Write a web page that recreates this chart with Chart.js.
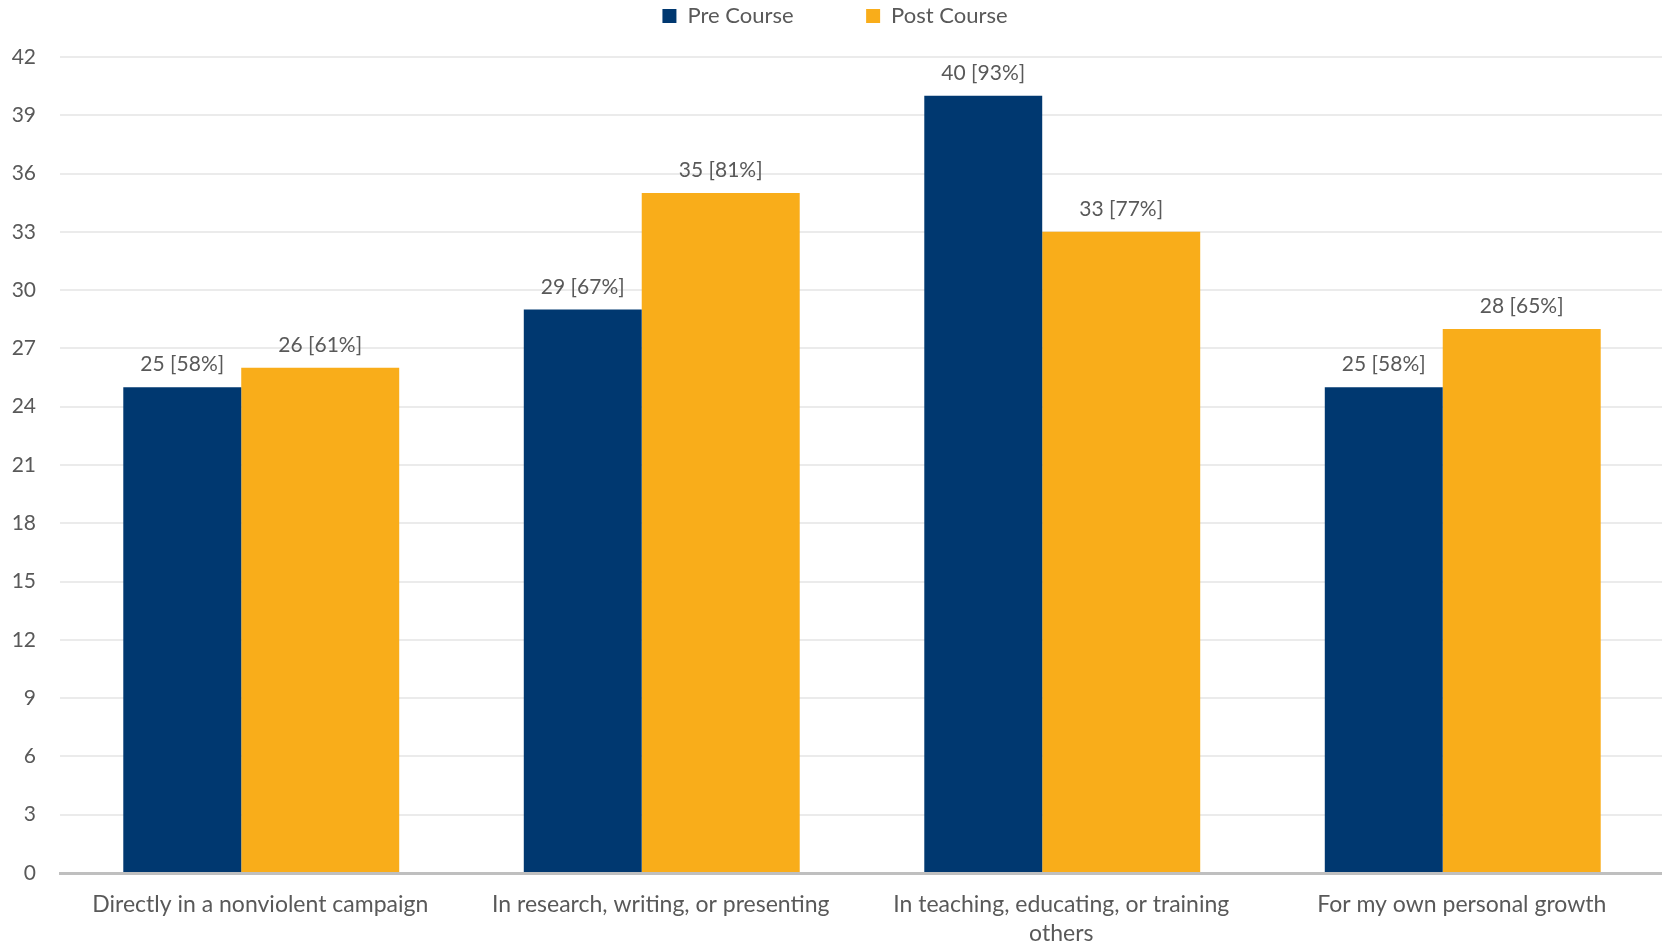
<!DOCTYPE html>
<html>
<head>
<meta charset="utf-8">
<script src="https://cdn.jsdelivr.net/npm/chart.js@4/dist/chart.umd.min.js"></script>
<style>
  html, body { margin: 0; padding: 0; background: #fff; }
  #wrap { width: 1662px; height: 946px; }
</style>
</head>
<body>
<div id="wrap"><canvas id="chart" width="1662" height="946"></canvas></div>
<script>
const categories = [
    'Directly in a nonviolent campaign',
    'In research, writing, or presenting',
    ['In teaching, educating, or training', 'others'],
    'For my own personal growth'
];
const preCourse = [25, 29, 40, 25];
const postCourse = [26, 35, 33, 28];
// percentages printed next to counts
const prePercent = [58, 67, 93, 58];
const postPercent = [61, 81, 77, 65];
const yTicks = { min: 0, max: 42, step: 3 };

const textColor = '#595959';
const fontFamily = 'Lato, "Open Sans", sans-serif';

// draws "25 [58%]" above each bar
const barLabels = {
    id: 'barLabels',
    afterDatasetsDraw(chart) {
        const ctx = chart.ctx;
        ctx.save();
        ctx.font = '21px ' + fontFamily;
        ctx.fillStyle = textColor;
        ctx.textAlign = 'center';
        ctx.textBaseline = 'alphabetic';
        chart.data.datasets.forEach((ds, i) => {
            const meta = chart.getDatasetMeta(i);
            meta.data.forEach((bar, j) => {
                const txt = ds.data[j] + ' [' + ds.percents[j] + '%]';
                ctx.fillText(txt, bar.x, bar.y - 16);
            });
        });
        ctx.restore();
    }
};

// leave room under the legend without pushing it down
const legendGap = {
    id: 'legendGap',
    beforeLayout(chart) {
        const lg = chart.legend;
        if (lg && !lg._gapPatched) {
            const origFit = lg.fit;
            lg.fit = function () {
                origFit.call(this);
                this.height += 20;
            };
            lg._gapPatched = true;
        }
    }
};

new Chart(document.getElementById('chart'), {
    type: 'bar',
    data: {
        labels: categories,
        datasets: [{
            label: 'Pre Course',
            data: preCourse,
            percents: prePercent,
            backgroundColor: '#003870',
            borderWidth: 0,
            categoryPercentage: 0.779,
            barPercentage: 0.756
        }, {
            label: 'Post Course',
            data: postCourse,
            percents: postPercent,
            backgroundColor: '#F9AD1A',
            borderWidth: 0,
            categoryPercentage: 0.599,
            barPercentage: 1.317
        }]
    },
    options: {
        responsive: false,
        animation: false,
        layout: { padding: { left: 8 } },
        plugins: {
            tooltip: { enabled: false },
            legend: {
                position: 'top',
                labels: {
                    boxWidth: 14,
                    boxHeight: 14,
                    padding: 5,
                    color: textColor,
                    font: { size: 22, family: fontFamily },
                    generateLabels(chart) {
                        const items = Chart.defaults.plugins.legend.labels.generateLabels(chart);
                        // widen the gap between the two entries
                        items[0].text = items[0].text + '\u00a0'.repeat(12);
                        return items;
                    }
                }
            }
        },
        scales: {
            x: {
                grid: { display: false, drawTicks: false },
                border: { display: true, color: '#BFBFBF', width: 3 },
                ticks: {
                    color: textColor,
                    font: { size: 23, family: fontFamily, lineHeight: 1.22 },
                    padding: 18,
                    maxRotation: 0,
                    autoSkip: false
                },
                afterFit(s) {
                    s.height = 73;
                    s.paddingLeft = 0;
                    s.paddingRight = 0;
                }
            },
            y: {
                min: yTicks.min,
                max: yTicks.max,
                grid: { color: '#EBEBEB', lineWidth: 2, drawTicks: false },
                border: { display: false },
                ticks: {
                    stepSize: yTicks.step,
                    color: textColor,
                    font: { size: 21, family: fontFamily },
                    padding: 24
                },
                afterFit(s) {
                    s.width = 52;
                    s.paddingTop = 56;
                }
            }
        }
    },
    plugins: [barLabels, legendGap]
});
</script>
</body>
</html>
